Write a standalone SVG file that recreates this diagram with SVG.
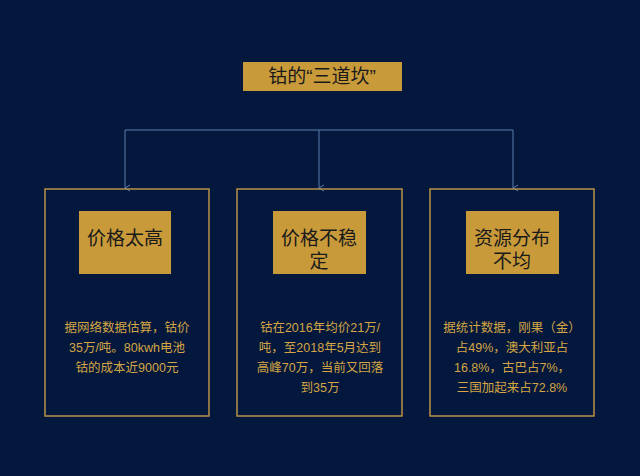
<svg xmlns="http://www.w3.org/2000/svg" width="640" height="476" viewBox="0 0 640 476">
<style>
.gold{fill:#c99a3a}
.frame{fill:none;stroke:#b8924a;stroke-width:1.5}
.h{font-family:"Liberation Sans","Noto Sans CJK SC",sans-serif;font-size:19px;fill:#1a1a1a;text-anchor:middle}
.b{font-family:"Liberation Sans","Noto Sans CJK SC",sans-serif;font-size:12.5px;fill:#d4a544;text-anchor:middle}
.c{stroke:#5b7fae;stroke-width:1;fill:none}
</style>
<defs><marker id="a" markerWidth="8" markerHeight="8" refX="4" refY="7" orient="auto" markerUnits="userSpaceOnUse"><path d="M1,2 L4,7 L7,2" fill="none" stroke="#5b7fae" stroke-width="1"/></marker></defs>
<rect width="640" height="476" fill="#03183c"/>
<g id="title"><rect class="gold" x="243" y="62" width="159" height="29"/><text class="h" x="322" y="83">钴的“三道坎”</text></g>
<g id="connectors">
<path class="c" d="M125,130 H513"/>
<path class="c" d="M125,130 V188" marker-end="url(#a)"/>
<path class="c" d="M319,130 V188" marker-end="url(#a)"/>
<path class="c" d="M513,130 V188" marker-end="url(#a)"/>
</g>
<g id="n1"><rect class="frame" x="45" y="189" width="164" height="227"/><rect class="gold" x="79" y="211" width="92" height="63"/><text class="h" x="125" y="245">价格太高</text>
<text class="b" x="127" y="332">据网络数据估算，钴价</text><text class="b" x="127" y="352">35万/吨。80kwh电池</text><text class="b" x="127" y="372">钴的成本近9000元</text></g>
<g id="n2"><rect class="frame" x="237" y="189" width="165" height="227"/><rect class="gold" x="273" y="211" width="93" height="63"/><text class="h" x="319" y="245">价格不稳</text><text class="h" x="319" y="268">定</text>
<text class="b" x="320" y="332">钴在2016年均价21万/</text><text class="b" x="320" y="352">吨，至2018年5月达到</text><text class="b" x="320" y="372">高峰70万，当前又回落</text><text class="b" x="320" y="392">到35万</text></g>
<g id="n3"><rect class="frame" x="430" y="189" width="164" height="227"/><rect class="gold" x="466" y="211" width="93" height="63"/><text class="h" x="512" y="245">资源分布</text><text class="h" x="512" y="268">不均</text>
<text class="b" x="512" y="332">据统计数据，刚果（金）</text><text class="b" x="512" y="352">占49%，澳大利亚占</text><text class="b" x="512" y="372">16.8%，古巴占7%，</text><text class="b" x="512" y="392">三国加起来占72.8%</text></g>
</svg>
